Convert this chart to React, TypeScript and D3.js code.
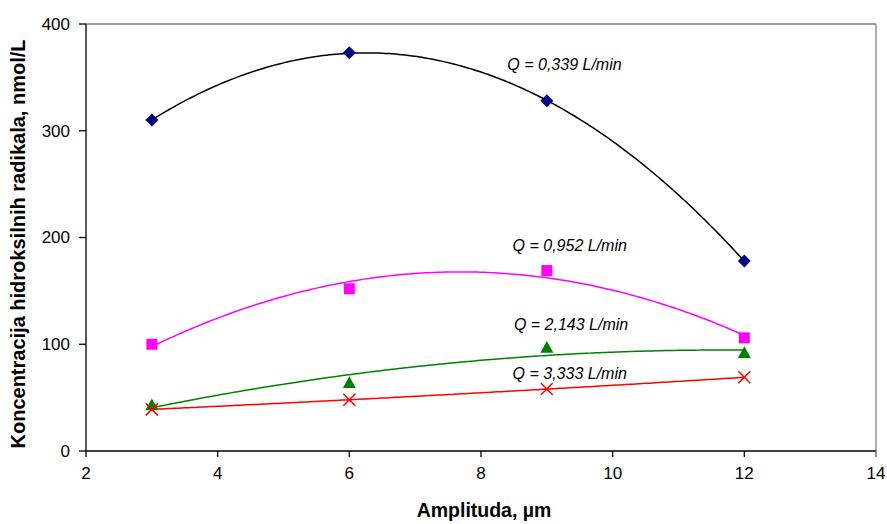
import React from "react";
import * as d3 from "d3";

const amplitudes = [3, 6, 9, 12];
const seriesNames = ["Q = 0,339 L/min", "Q = 0,952 L/min", "Q = 2,143 L/min", "Q = 3,333 L/min"];
const q0339 = [310, 373, 328, 178];
const q0952 = [100, 152, 169, 106];
const q2143 = [43, 64, 97, 92];
const q3333 = [39, 48, 58, 69];
const labelX = [8.4, 8.48, 8.5, 8.48];
const labelY = [357, 187.5, 113.5, 67.5];
const xTicks = [2, 4, 6, 8, 10, 12, 14];
const yTicks = [0, 100, 200, 300, 400];

const W = 887, H = 524;
const M = { left: 86, right: 876, top: 24, bottom: 451 };

function quadFit(xs: number[], ys: number[]) {
  // least squares y = a + b x + c x^2
  const n = xs.length;
  let s = [0, 0, 0, 0, 0], t = [0, 0, 0];
  for (let i = 0; i < n; i++) {
    const x = xs[i], y = ys[i];
    for (let k = 0; k < 5; k++) s[k] += Math.pow(x, k);
    for (let k = 0; k < 3; k++) t[k] += y * Math.pow(x, k);
  }
  const A = [
    [s[0], s[1], s[2], t[0]],
    [s[1], s[2], s[3], t[1]],
    [s[2], s[3], s[4], t[2]],
  ];
  for (let i = 0; i < 3; i++) {
    for (let j = i + 1; j < 3; j++) {
      const f = A[j][i] / A[i][i];
      for (let k = i; k < 4; k++) A[j][k] -= f * A[i][k];
    }
  }
  const c = [0, 0, 0];
  for (let i = 2; i >= 0; i--) {
    let v = A[i][3];
    for (let k = i + 1; k < 3; k++) v -= A[i][k] * c[k];
    c[i] = v / A[i][i];
  }
  return (x: number) => c[0] + c[1] * x + c[2] * x * x;
}

export default function App() {
  const x = d3.scaleLinear().domain([2, 14]).range([M.left, M.right]);
  const y = d3.scaleLinear().domain([0, 400]).range([M.bottom, M.top]);
  const font = "'Liberation Sans', Arial, sans-serif";

  const series = [
    { vals: q0339, line: "#000000", mark: "#000080", shape: "diamond" },
    { vals: q0952, line: "#FF00FF", mark: "#FF00FF", shape: "square" },
    { vals: q2143, line: "#008000", mark: "#008000", shape: "triangle" },
    { vals: q3333, line: "#FF0000", mark: "#FF0000", shape: "x" },
  ];

  const samples = d3.range(0, 181).map((i) => 3 + (9 * i) / 180);
  const line = d3.line<[number, number]>().x((d) => x(d[0])).y((d) => y(d[1]));

  const marker = (shape: string, cx: number, cy: number, color: string, key: string) => {
    if (shape === "diamond") {
      const r = 6.5;
      return <path key={key} d={`M${cx},${cy - r}L${cx + r},${cy}L${cx},${cy + r}L${cx - r},${cy}Z`} fill={color} />;
    }
    if (shape === "square") {
      const r = 5.5;
      return <rect key={key} x={cx - r} y={cy - r} width={2 * r} height={2 * r} fill={color} />;
    }
    if (shape === "triangle") {
      const r = 6.5;
      return <path key={key} d={`M${cx},${cy - r}L${cx + r},${cy + r * 0.8}L${cx - r},${cy + r * 0.8}Z`} fill={color} />;
    }
    const r = 6;
    return (
      <path key={key} d={`M${cx - r},${cy - r}L${cx + r},${cy + r}M${cx - r},${cy + r}L${cx + r},${cy - r}`} stroke={color} strokeWidth={1.5} fill="none" />
    );
  };

  return (
    <svg width={W} height={H} style={{ position: "absolute", left: 0, top: 0, background: "#fff" }} fontFamily={font}>
      <rect x={0} y={0} width={W} height={H} fill="#fff" />
      {/* frame */}
      <line x1={M.left} x2={M.right} y1={M.top} y2={M.top} stroke="#808080" strokeWidth={1.3} />
      <line x1={M.right} x2={M.right} y1={M.top} y2={M.bottom + 6} stroke="#808080" strokeWidth={1.3} />
      {/* y axis */}
      <line x1={M.left} x2={M.left} y1={M.top} y2={M.bottom} stroke="#000" strokeWidth={1.3} />
      {yTicks.map((t) => (
        <g key={"y" + t}>
          <line x1={M.left - 7} x2={M.left} y1={y(t)} y2={y(t)} stroke="#000" strokeWidth={1.3} />
          <text x={M.left - 16} y={y(t)} dy="0.35em" textAnchor="end" fontSize={17}>{t}</text>
        </g>
      ))}
      {/* x axis */}
      <line x1={M.left} x2={M.right} y1={M.bottom} y2={M.bottom} stroke="#000" strokeWidth={1.3} />
      {xTicks.map((t) => (
        <g key={"x" + t}>
          <line x1={x(t)} x2={x(t)} y1={M.bottom} y2={M.bottom + 6} stroke={t === 14 ? "#808080" : "#000"} strokeWidth={1.3} />
          <text x={x(t)} y={M.bottom + 28} textAnchor="middle" fontSize={17}>{t}</text>
        </g>
      ))}
      {/* trend lines */}
      {series.map((s, i) => {
        const f = quadFit(amplitudes, s.vals);
        const pts = samples.map((v) => [v, f(v)] as [number, number]);
        return <path key={"l" + i} d={line(pts) || ""} fill="none" stroke={s.line} strokeWidth={1.5} />;
      })}
      {/* markers */}
      {series.map((s, i) => s.vals.map((v, j) => marker(s.shape, x(amplitudes[j]), y(v), s.mark, `m${i}-${j}`)))}
      {/* labels */}
      {seriesNames.map((n, i) => (
        <text key={"t" + i} x={x(labelX[i])} y={y(labelY[i])} fontSize={16} fontStyle="italic">{n}</text>
      ))}
      <text x={484} y={517} textAnchor="middle" fontSize={19.5} fontWeight="bold">Amplituda, µm</text>
      <text transform={`translate(25,${244}) rotate(-90)`} textAnchor="middle" fontSize={20} fontWeight="bold">
        Koncentracija hidroksilnih radikala, nmol/L
      </text>
    </svg>
  );
}
